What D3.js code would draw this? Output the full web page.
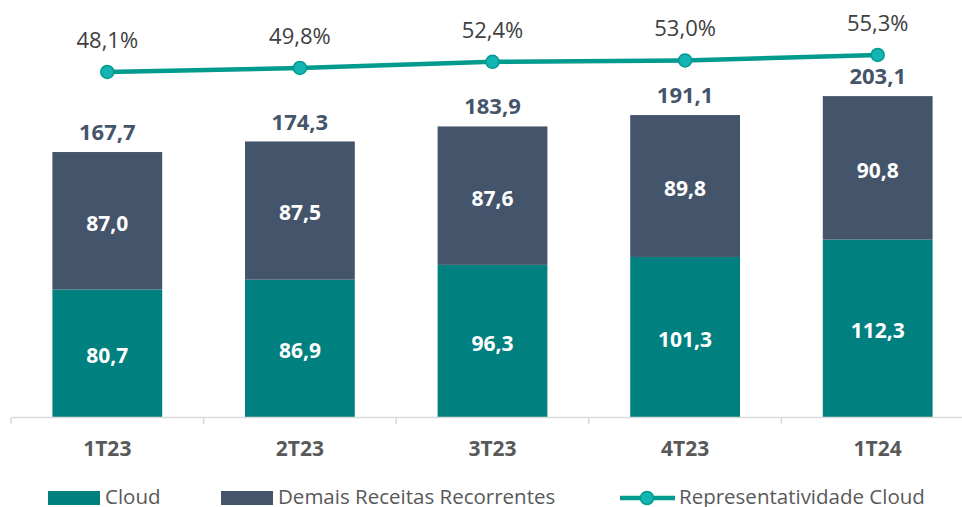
<!DOCTYPE html>
<html>
<head>
<meta charset="utf-8">
<script src="https://cdn.jsdelivr.net/npm/d3@7"></script>
<style>
  html, body { margin: 0; padding: 0; background: #fff; }
  svg { display: block; font-family: "Open Sans", "Noto Sans", sans-serif; }
</style>
</head>
<body>
<svg id="chart" width="962" height="507"></svg>
<script>
const categories = ['1T23', '2T23', '3T23', '4T23', '1T24'];
const cloud = [80.7, 86.9, 96.3, 101.3, 112.3];
const demais = [87.0, 87.5, 87.6, 89.8, 90.8];
const totals = [167.7, 174.3, 183.9, 191.1, 203.1];
const share = [48.1, 49.8, 52.4, 53.0, 55.3];

const COLORS = { cloud: '#00807f', demais: '#44546a', line: '#009a8e', marker: '#14b4b4', axis: '#d9d9d9' };
const fmt = v => v.toFixed(1).replace('.', ',');

const svg = d3.select('#chart');

// Scales
const x = d3.scaleBand()
    .domain(categories)
    .range([11, 974])
    .paddingInner(0.43)
    .paddingOuter(0.215);

const xBand = d3.scaleBand().domain(categories).range([11, 974]);

const y = d3.scaleLinear().domain([0, 250]).range([417, 22]);
const yPct = d3.scaleLinear().domain([0, 100]).range([185.5, -50.5]);

// Stacks
const rows = categories.map((c, i) => ({ cat: c, cloud: cloud[i], demais: demais[i] }));
const stack = d3.stack().keys(['cloud', 'demais'])(rows);

svg.append('g')
  .selectAll('g')
  .data(stack)
  .join('g')
    .attr('fill', d => COLORS[d.key])
  .selectAll('rect')
  .data(d => d)
  .join('rect')
    .attr('x', d => x(d.data.cat))
    .attr('width', x.bandwidth())
    .attr('y', d => y(d[1]))
    .attr('height', d => y(d[0]) - y(d[1]));

// Inner labels
stack.forEach(s => {
  svg.append('g').selectAll('text')
    .data(s)
    .join('text')
      .attr('x', d => x(d.data.cat) + x.bandwidth() / 2)
      .attr('y', d => (y(d[0]) + y(d[1])) / 2)
      .attr('dy', '0.47em')
      .attr('text-anchor', 'middle')
      .style('font-size', '21px').style('font-weight', 'bold').style('fill', '#fff')
      .text(d => fmt(d.data[s.key]));
});

// Totals
svg.append('g').selectAll('text')
  .data(categories)
  .join('text')
    .attr('x', c => x(c) + x.bandwidth() / 2)
    .attr('y', (c, i) => y(totals[i]) - 12)
    .attr('text-anchor', 'middle')
    .style('font-size', '22px').style('font-weight', 'bold').style('fill', COLORS.demais)
    .text((c, i) => fmt(totals[i]));

// Category axis
const axis = svg.append('g')
    .attr('transform', 'translate(0,417)')
    .call(d3.axisBottom(xBand).tickSize(0).tickFormat(''));
axis.select('.domain').attr('stroke', COLORS.axis).attr('stroke-width', 1.5);
axis.selectAll('.tick').remove();

svg.append('g').selectAll('line')
  .data(categories.concat(['end']))
  .join('line')
    .attr('x1', (c, i) => i < categories.length ? xBand(c) : xBand.range()[1])
    .attr('x2', (c, i) => i < categories.length ? xBand(c) : xBand.range()[1])
    .attr('y1', 417).attr('y2', 424)
    .attr('stroke', COLORS.axis).attr('stroke-width', 1.5);

svg.append('g').selectAll('text')
  .data(categories)
  .join('text')
    .attr('x', c => xBand(c) + xBand.bandwidth() / 2)
    .attr('y', 456)
    .attr('text-anchor', 'middle')
    .style('font-size', '21px').style('font-weight', 'bold').style('fill', '#595959')
    .text(c => c);

// Line series
const cx = c => x(c) + x.bandwidth() / 2;
svg.append('path')
  .datum(categories)
  .attr('fill', 'none')
  .attr('stroke', COLORS.line)
  .attr('stroke-width', 4.5)
  .attr('d', d3.line().x(c => cx(c)).y((c, i) => yPct(share[i])));

svg.append('g').selectAll('circle')
  .data(categories)
  .join('circle')
    .attr('cx', c => cx(c))
    .attr('cy', (c, i) => yPct(share[i]))
    .attr('r', 6.5)
    .attr('fill', COLORS.marker)
    .attr('stroke', COLORS.line).attr('stroke-width', 1.5);

svg.append('g').selectAll('text')
  .data(categories)
  .join('text')
    .attr('x', c => cx(c))
    .attr('y', (c, i) => yPct(share[i]) - 24)
    .attr('text-anchor', 'middle')
    .style('font-size', '22px').style('fill', '#404040')
    .text((c, i) => fmt(share[i]) + '%');

// Legend
const legend = svg.append('g').style('font-size', '20.5px').style('fill', '#595959');
legend.append('rect').attr('x', 48).attr('y', 491).attr('width', 52).attr('height', 14).attr('fill', COLORS.cloud);
legend.append('text').attr('x', 105).attr('y', 504).text('Cloud');
legend.append('rect').attr('x', 221).attr('y', 491).attr('width', 52).attr('height', 14).attr('fill', COLORS.demais);
legend.append('text').attr('x', 278).attr('y', 504).text('Demais Receitas Recorrentes');
legend.append('line').attr('x1', 620).attr('x2', 675).attr('y1', 498).attr('y2', 498)
  .attr('stroke', COLORS.line).attr('stroke-width', 4.5);
legend.append('circle').attr('cx', 647).attr('cy', 498).attr('r', 6.5)
  .attr('fill', COLORS.marker).attr('stroke', COLORS.line).attr('stroke-width', 1.5);
legend.append('text').attr('x', 679).attr('y', 504).text('Representatividade Cloud');
</script>
</body>
</html>
